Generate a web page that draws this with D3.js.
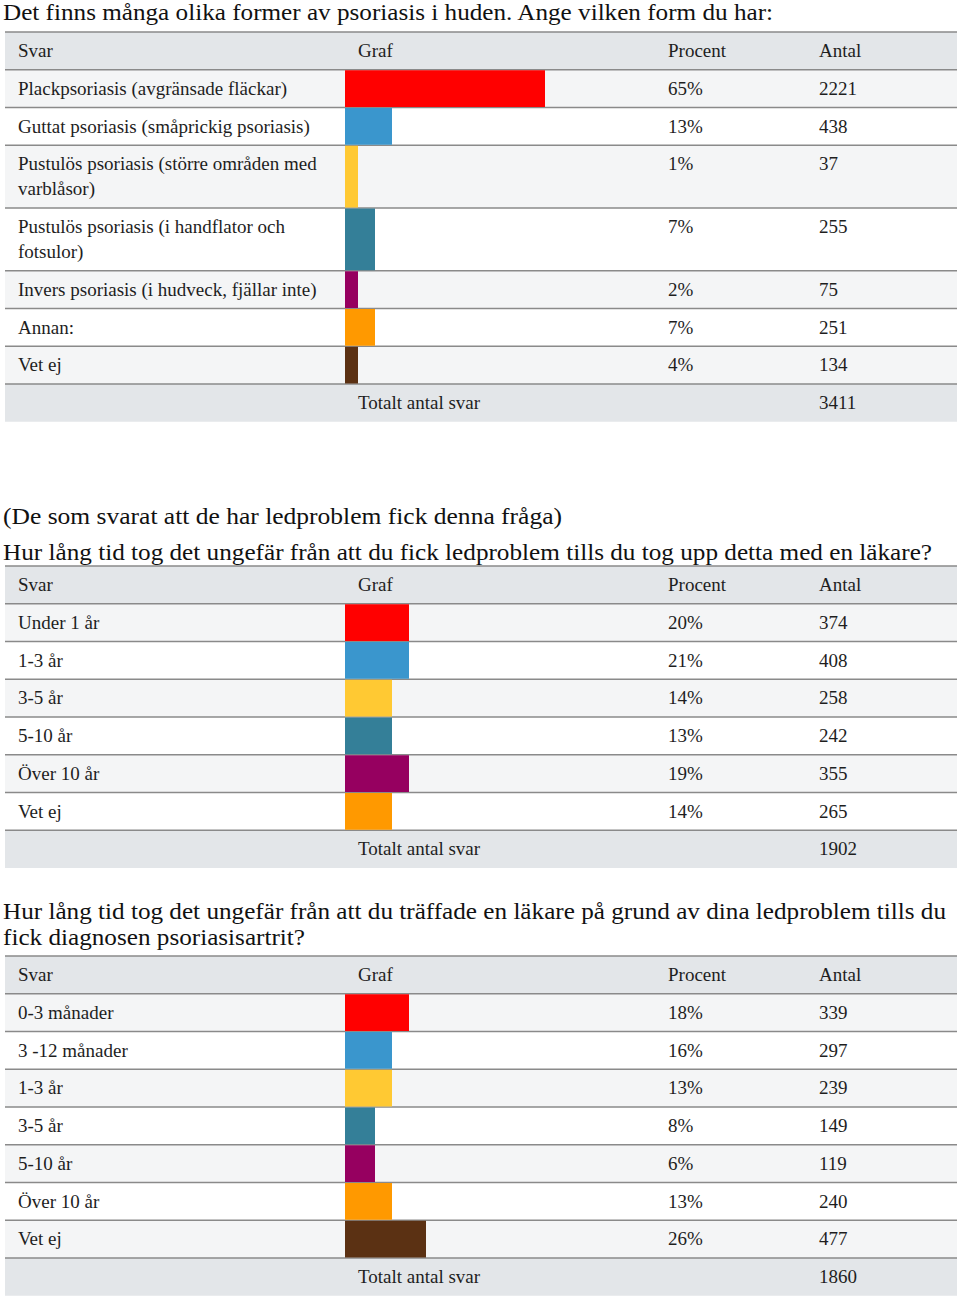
<!DOCTYPE html>
<html><head><meta charset="utf-8">
<script src="https://cdn.jsdelivr.net/npm/d3@7"></script>
<style>
body{margin:0;background:#fff}
svg{display:block}
text{font-family:"Liberation Serif","Times New Roman",serif}
</style></head>
<body><svg id="c" width="960" height="1298"></svg>
<script>
// ---------- data ----------
const headers = ["Svar", "Graf", "Procent", "Antal"];
const totalLabel = "Totalt antal svar";
const colors = ["#ff0000", "#3a96cd", "#ffc933", "#347f98", "#960060", "#ff9900", "#5b3113"];

const q1Title = "Det finns många olika former av psoriasis i huden. Ange vilken form du har:";
const q1Labels = ["Plackpsoriasis (avgränsade fläckar)", "Guttat psoriasis (småprickig psoriasis)",
  "Pustulös psoriasis (större områden med varblåsor)", "Pustulös psoriasis (i handflator och fotsulor)",
  "Invers psoriasis (i hudveck, fjällar inte)", "Annan:", "Vet ej"];
const q1Percent = [65, 13, 1, 7, 2, 7, 4];
const q1Count = [2221, 438, 37, 255, 75, 251, 134];
const q1Total = 3411;

const q2Note = "(De som svarat att de har ledproblem fick denna fråga)";
const q2Title = "Hur lång tid tog det ungefär från att du fick ledproblem tills du tog upp detta med en läkare?";
const q2Labels = ["Under 1 år", "1-3 år", "3-5 år", "5-10 år", "Över 10 år", "Vet ej"];
const q2Percent = [20, 21, 14, 13, 19, 14];
const q2Count = [374, 408, 258, 242, 355, 265];
const q2Total = 1902;

const q3TitleLines = ["Hur lång tid tog det ungefär från att du träffade en läkare på grund av dina ledproblem tills du",
  "fick diagnosen psoriasisartrit?"];
const q3Labels = ["0-3 månader", "3 -12 månader", "1-3 år", "3-5 år", "5-10 år", "Över 10 år", "Vet ej"];
const q3Percent = [18, 16, 13, 8, 6, 13, 26];
const q3Count = [339, 297, 239, 149, 119, 240, 477];
const q3Total = 1860;

// ---------- drawing ----------
const svg = d3.select("#c");
const X0 = 5, X1 = 957;
const colSvar = 18, colGraf = 358, barX = 345, colPct = 668, colAnt = 819;
const rowH = 37.75, lineH = 25, labelMax = 325, fs = 19;
const textColor = "#1e1e1e";

// bars are drawn in discrete steps: quantize percent into steps, then map steps to pixels
const stepScale = d3.scaleQuantize().domain([0, 100]).range(d3.range(17));
const barScale = d3.scaleLinear().domain([0, 17]).range([13, 13 + 17 * 17]);

function title(txt, x, y, len) {
  const t = svg.append("text").attr("x", x).attr("y", y)
    .attr("font-size", 24).attr("fill", "#111").text(txt);
  if (len) t.attr("textLength", len).attr("lengthAdjust", "spacingAndGlyphs");
  return t;
}

function wrap(str) {
  const words = str.split(" ");
  const probe = svg.append("text").attr("font-size", fs);
  const lines = [];
  let cur = "";
  words.forEach(w => {
    const test = cur ? cur + " " + w : w;
    probe.text(test);
    if (probe.node().getComputedTextLength() > labelMax && cur) {
      lines.push(cur); cur = w;
    } else cur = test;
  });
  if (cur) lines.push(cur);
  probe.remove();
  return lines;
}

function drawTable(y0, labels, pct, counts, total) {
  const g = svg.append("g");
  const bgs = g.append("g"), lines = g.append("g"), bars = g.append("g"), txt = g.append("g");
  const cell = (x, y, s) => txt.append("text").attr("x", x).attr("y", y)
    .attr("font-size", fs).attr("fill", textColor).text(s);
  const base = 25;

  // header
  bgs.append("rect").attr("x", X0).attr("y", y0).attr("width", X1 - X0).attr("height", rowH).attr("fill", "#e3e6e9");
  [colSvar, colGraf, colPct, colAnt].forEach((x, i) => cell(x, y0 + base, headers[i]));
  let y = y0 + rowH;
  const sepYs = [y0, y];
  labels.forEach((lab, i) => {
    const ls = wrap(lab);
    const h = rowH + lineH * (ls.length - 1);
    bgs.append("rect").attr("x", X0).attr("y", y).attr("width", X1 - X0).attr("height", h)
      .attr("fill", i % 2 === 0 ? "#f4f5f6" : "#ffffff");
    bars.append("rect").attr("x", barX).attr("y", y + 0.5)
      .attr("width", barScale(stepScale(pct[i]))).attr("height", h - 1).attr("fill", colors[i]);
    ls.forEach((l, k) => cell(colSvar, y + base + k * lineH, l));
    cell(colPct, y + base, pct[i] + "%");
    cell(colAnt, y + base, counts[i]);
    y += h;
    sepYs.push(y);
  });
  // total row
  bgs.append("rect").attr("x", X0).attr("y", y).attr("width", X1 - X0).attr("height", rowH).attr("fill", "#e3e6e9");
  cell(colGraf, y + base, totalLabel);
  cell(colAnt, y + base, total);
  sepYs.forEach(sy => lines.append("line").attr("x1", X0).attr("x2", X1).attr("y1", sy).attr("y2", sy)
    .attr("stroke", "#8a8a8a").attr("stroke-width", 1.5));
  return y + rowH;
}

title(q1Title, 3, 20, 770);
drawTable(32, q1Labels, q1Percent, q1Count, q1Total);

title(q2Note, 3, 524, 559);
title(q2Title, 3, 560, 929);
drawTable(566, q2Labels, q2Percent, q2Count, q2Total);

title(q3TitleLines[0], 3, 919, 943);
title(q3TitleLines[1], 3, 945, 302);
drawTable(956, q3Labels, q3Percent, q3Count, q3Total);
</script></body></html>
